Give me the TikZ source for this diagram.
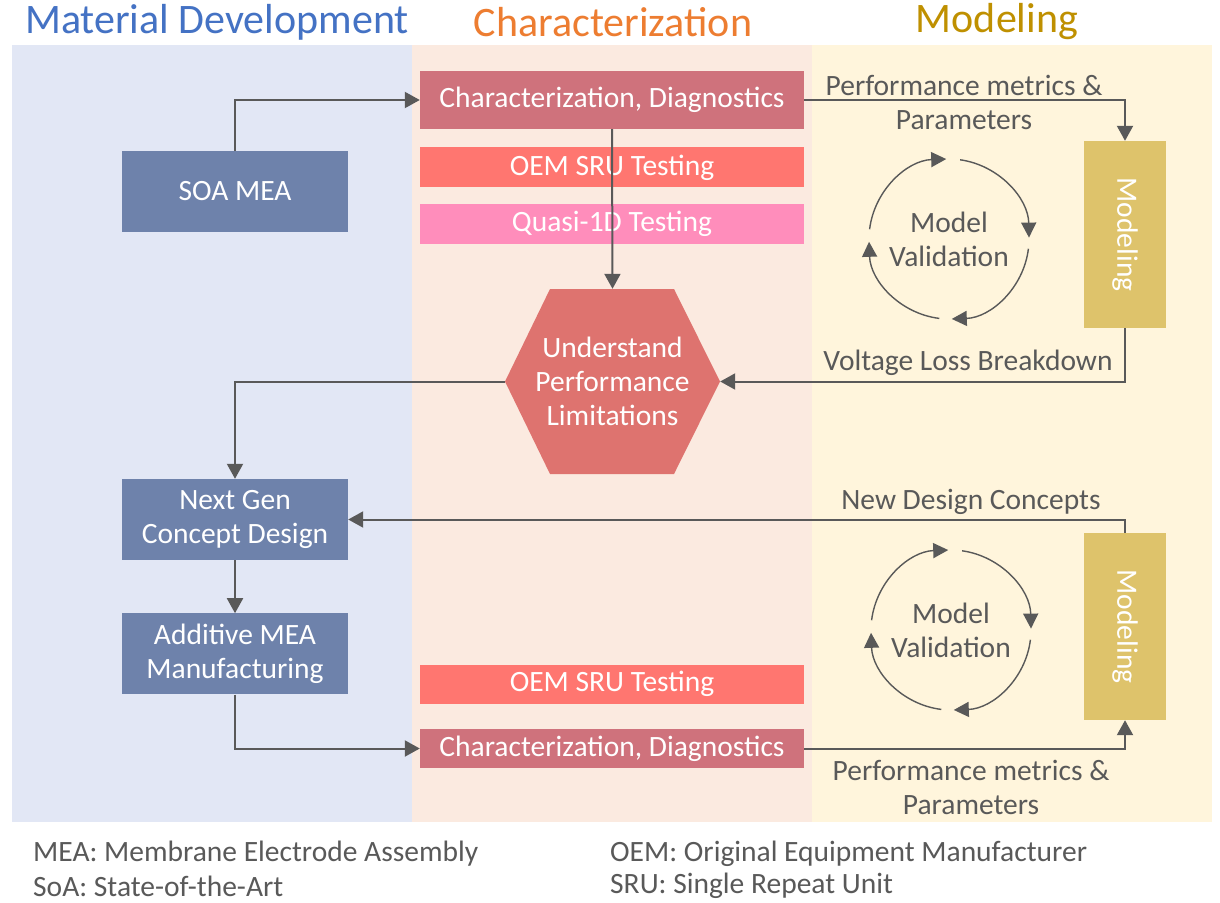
\documentclass[tikz,border=0pt]{standalone}
\usepackage{fontspec}
\setmainfont{Carlito}
\usepackage{graphicx}
\usepackage{xcolor}
\usetikzlibrary{positioning,arrows.meta}
\definecolor{matbg}{HTML}{E2E7F5}
\definecolor{charbg}{HTML}{FBEAE0}
\definecolor{modbg}{HTML}{FFF5DC}
\definecolor{matblue}{HTML}{6E82AB}
\definecolor{charred}{HTML}{CF727C}
\definecolor{oemred}{HTML}{FF7670}
\definecolor{quasipink}{HTML}{FF8DBB}
\definecolor{hexred}{HTML}{DE736F}
\definecolor{modgold}{HTML}{DEC36B}
\definecolor{linegray}{HTML}{595959}
\definecolor{ttlblue}{HTML}{4472C4}
\definecolor{ttlorange}{HTML}{ED7D31}
\definecolor{ttlgold}{HTML}{BF9000}

\begin{document}
\begin{tikzpicture}[x=1pt, y=-1pt, every node/.style={font=\fontsize{29.5}{34}\selectfont},
  matbox/.style={fill=matblue, text=white, minimum width=226pt, minimum height=81pt, inner sep=0pt, align=center},
  testbox/.style={text=white, minimum width=384pt, inner sep=0pt, align=center},
  modbox/.style={fill=modgold, text=white, minimum width=82pt, minimum height=187pt, inner sep=0pt},
  hexbox/.style={minimum width=215pt, minimum height=185pt, inner sep=0pt, text=white, align=center,
    path picture={\fill[hexred] (path picture bounding box.west)
      -- ([xshift=45pt]path picture bounding box.north west) -- ([xshift=-46pt]path picture bounding box.north east)
      -- (path picture bounding box.east)
      -- ([xshift=-46pt]path picture bounding box.south east) -- ([xshift=45pt]path picture bounding box.south west) -- cycle;}},
  lbl/.style={text=linegray, align=center, inner sep=0pt},
  ttl/.style={font=\fontsize{42}{48}\selectfont},
  conn/.style={draw=linegray, line width=2pt, -{Triangle[length=15pt,width=16pt]}},
  cyc/.style={draw=linegray, line width=1.4pt, -{Triangle[length=15pt,width=15pt]}}]
% panels
\fill[white] (0,0) rectangle (1220,902);
\fill[matbg] (12,45) rectangle (412,822);
\fill[charbg] (412,45) rectangle (812,822);
\fill[modbg] (812,45) rectangle (1212,822);
\node[ttl, text=ttlblue] (ttlmat) at (217,22) {Material Development};
\node[ttl, text=ttlorange] (ttlchar) at (613,22) {Characterization};
\node[ttl, text=ttlgold] (ttlmod) at (997,22) {Modeling};

% material development column
\node[matbox] (soa) at (235,191.5) {SOA MEA};
\node[matbox] (next) at (235,519.5) {Next Gen\\Concept Design};
\node[matbox, below=53pt of next] (add) {Additive MEA\\Manufacturing};

% characterization column
\node[testbox, fill=charred, minimum height=58pt] (char1) at (612,100) {Characterization, Diagnostics};
\node[testbox, fill=oemred, minimum height=40pt, below=18pt of char1] (oem1) {OEM SRU Testing};
\node[testbox, fill=quasipink, minimum height=40pt, below=16pt of oem1] (quasi) {Quasi-1D Testing};
\node[hexbox] (hex) at (612.5,381.5) {Understand\\Performance\\Limitations};
\node[testbox, fill=charred, minimum height=39pt] (char2) at (612,748.5) {Characterization, Diagnostics};
\node[testbox, fill=oemred, minimum height=39pt, above=25pt of char2] (oem2) {OEM SRU Testing};

% modeling column
\node[modbox] (mod1) at (1125,234.5) {\rotatebox{-90}{Modeling}};
\node[modbox] (mod2) at (1125,626.5) {\rotatebox{-90}{Modeling}};
\node[lbl] (val1) at (949,239) {Model\\Validation};
\node[lbl] (val2) at (951,630) {Model\\Validation};
\foreach \a in {-173,-82,7,97} {
  \draw[cyc] (val1.center) ++(\a:80) arc[start angle=\a, delta angle=81, radius=80];
  \draw[cyc] (val2.center) ++(\a:80) arc[start angle=\a, delta angle=81, radius=80];
}

% connectors
\draw[conn] (soa.north) |- (char1.west);
\draw[conn] (char1.south) -- (hex.north);
\draw[conn] (char1.east) -| (mod1.north);
\node[lbl] (perf1) at (964,102) {Performance metrics \&\\Parameters};
\draw[conn] (mod1.south) |- (hex.east);
\node[lbl] (volt) at (968,363) {Voltage Loss Breakdown};
\draw[conn] (hex.west) -| (next.north);
\draw[conn] (mod2.north) |- (next.east);
\node[lbl] (newdes) at (971,502) {New Design Concepts};
\draw[conn] (next.south) -- (add.north);
\draw[conn] (add.south) |- (char2.west);
\draw[conn] (char2.east) -| (mod2.south);
\node[lbl] (perf2) at (971,787) {Performance metrics \&\\Parameters};

% abbreviations
\node[lbl, anchor=west] (fn1) at (33,854) {MEA: Membrane Electrode Assembly};
\node[lbl, anchor=west] (fn2) at (33,886) {SoA: State-of-the-Art};
\node[lbl, anchor=west] (fn3) at (610,854) {OEM: Original Equipment Manufacturer};
\node[lbl, anchor=west] (fn4) at (610,886) {SRU: Single Repeat Unit};
\end{tikzpicture}
\end{document}
